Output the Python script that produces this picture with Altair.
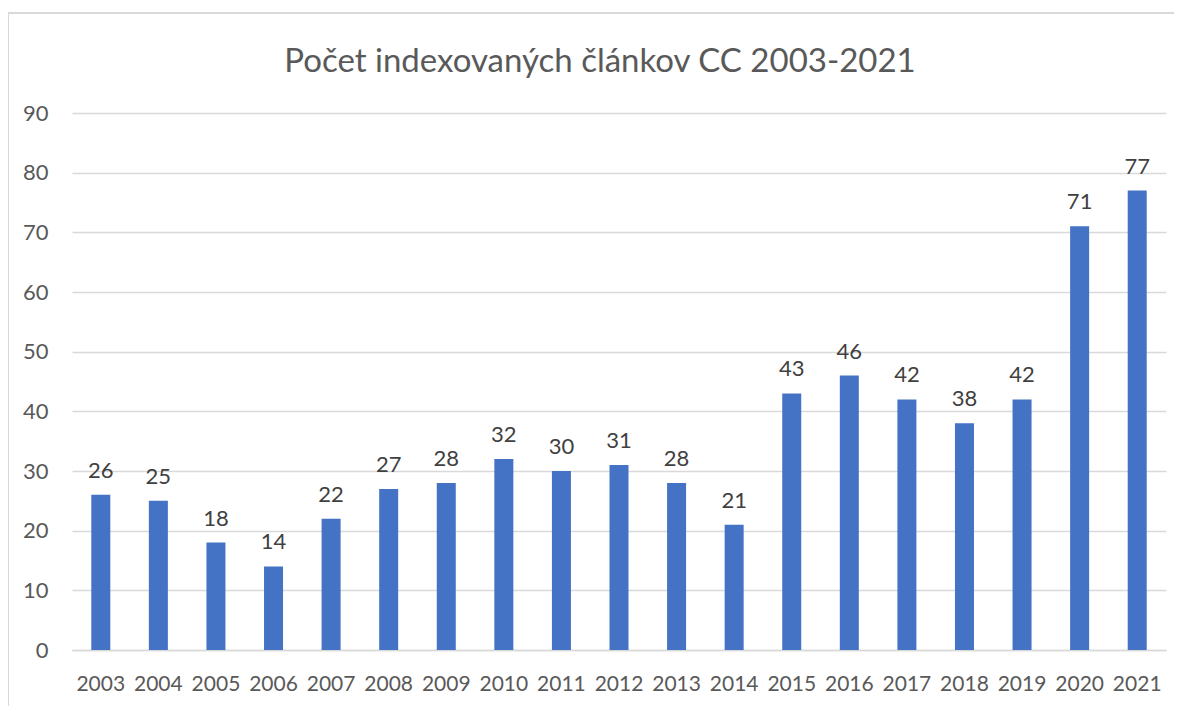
import altair as alt
import pandas as pd

years = ["2003", "2004", "2005", "2006", "2007", "2008", "2009", "2010", "2011", "2012",
         "2013", "2014", "2015", "2016", "2017", "2018", "2019", "2020", "2021"]
counts = [26, 25, 18, 14, 22, 27, 28, 32, 30, 31, 28, 21, 43, 46, 42, 38, 42, 71, 77]
y_ticks = [0, 10, 20, 30, 40, 50, 60, 70, 80, 90]
title_text = "Počet indexovaných článkov CC 2003-2021"

df = pd.DataFrame({"year": years, "count": counts})

FONT = "Lato"
GREY = "#595959"
LSIZE = 22

x_enc = alt.X("year:N", sort=years, title=None,
              scale=alt.Scale(paddingInner=0.67, paddingOuter=0.335),
              axis=alt.Axis(labelAngle=0, labelFont=FONT, labelFontSize=21, labelColor=GREY,
                            labelPadding=40, labelBaseline="alphabetic", ticks=False,
                            domain=True, domainColor="#D9D9D9", domainWidth=1.5, grid=False))
y_enc = alt.Y("count:Q", title=None,
              scale=alt.Scale(domain=[0, 90], nice=False),
              axis=alt.Axis(values=y_ticks, labelFont=FONT, labelFontSize=LSIZE, labelColor=GREY,
                            labelPadding=24, ticks=False, domain=False,
                            gridColor="#D9D9D9", gridWidth=1.5))

base = alt.Chart(df)
bars = base.mark_bar(color="#4472C4").encode(x=x_enc, y=y_enc)
labels = base.mark_text(font=FONT, fontSize=LSIZE, color="#404040", baseline="alphabetic",
                        dy=-17).encode(x=alt.X("year:N", sort=years),
                                       y=alt.Y("count:Q"), text=alt.Text("count:Q"))

one = pd.DataFrame({"t": [title_text]})
border_top = alt.Chart(one).mark_rule(stroke="#D9D9D9", strokeWidth=2).encode(
    x=alt.value(-64), x2=alt.value(1300), y=alt.value(-100))
border_left = alt.Chart(one).mark_rule(stroke="#D9D9D9", strokeWidth=2).encode(
    x=alt.value(-64), y=alt.value(-100), y2=alt.value(800))

title = alt.Chart(one).mark_text(
    font=FONT, fontSize=33, color=GREY, align="center", baseline="alphabetic"
).encode(x=alt.value(528), y=alt.value(-41), text="t:N")

chart = alt.layer(border_top, border_left, bars, labels, title).properties(
    width=1094, height=537,
    autosize=alt.AutoSizeParams(type="none"),
    padding={"left": 64, "top": 105, "right": 8, "bottom": 56},
).configure_view(stroke=None)

chart.save("out.html", embed_options={"renderer": "svg", "actions": False})
